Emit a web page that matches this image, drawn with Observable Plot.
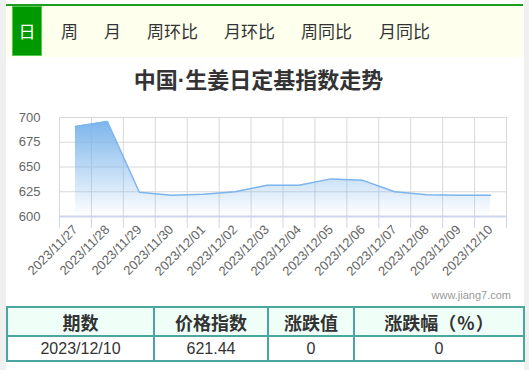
<!DOCTYPE html>
<html>
<head>
<meta charset="utf-8">
<script src="https://cdn.jsdelivr.net/npm/d3@7"></script>
<script src="https://cdn.jsdelivr.net/npm/@observablehq/plot@0.6"></script>
<style>
  html, body { margin: 0; padding: 0; }
  body { width: 529px; height: 370px; background: #f0f0f0; position: relative; overflow: hidden;
         font-family: "Noto Sans CJK SC", "Noto Sans", sans-serif; color: #333; }
  #page { position: absolute; left: 6px; top: 0; width: 518px; height: 370px; background: #fff; }
  #topline { position: absolute; left: 6px; top: 4px; width: 517px; height: 2px; background: #1e9e1e; }
  #tabbar { position: absolute; left: 6px; top: 6px; width: 517px; height: 51px; background: #ffffee; }
  .tab { position: absolute; top: 6px; height: 50px; line-height: 50px; font-size: 17px; color: #333; white-space: nowrap; }
  .tab.active { background: #009900; color: #fff; border: 1px solid #55c855; box-sizing: border-box; text-align: center; line-height: 48px; }
  #title { position: absolute; left: 0; width: 517px; top: 62px; text-align: center; font-size: 22px; font-weight: bold; color: #333; }
  #title .dot { font-family: "Liberation Sans", Arial, sans-serif; }
  #chart { position: absolute; left: 7px; top: 100px; }
  #wm { position: absolute; right: 18px; top: 289px; font-size: 11px; color: #999; font-family: "Liberation Sans", Arial, sans-serif; }
  table { position: absolute; left: 6px; top: 306px; width: 517px; border-collapse: collapse; table-layout: fixed; }
  td, th { border: 2px solid #4aa69e; text-align: center; padding: 0; color: #333; white-space: nowrap; }
  th { background: #effff8; height: 27px; font-size: 18px; font-weight: bold; }
  td { height: 23px; font-size: 16px; font-family: "Liberation Sans", Arial, sans-serif; }
  .pct { padding: 0 1px; }
</style>
</head>
<body>
<div id="page"></div>
<div id="topline"></div>
<div id="tabbar"></div>
<div id="tabs"></div>
<div id="title"></div>
<div id="chart"></div>
<div id="wm">www.jiang7.com</div>
<table id="tbl"></table>
<script>
// ---- data ----
const dates = ["2023/11/27","2023/11/28","2023/11/29","2023/11/30","2023/12/01","2023/12/02","2023/12/03",
               "2023/12/04","2023/12/05","2023/12/06","2023/12/07","2023/12/08","2023/12/09","2023/12/10"];
const values = [691, 696, 624.5, 621.5, 622.5, 625, 631.5, 631.5, 638, 636.5, 625, 622, 621.5, 621.44];
const yTicks = [600, 625, 650, 675, 700];
const tabs = ["日","周","月","周环比","月环比","周同比","月同比"];
const titleParts = ["中国", "·", "生姜日定基指数走势"];
const tableHead = ["期数","价格指数","涨跌值","涨跌幅（%）"];
const tableRow = ["2023/12/10","621.44","0","0"];

// ---- title ----
const titleEl = document.getElementById("title");
titleParts.forEach((p, i) => {
  const s = document.createElement("span");
  if (i === 1) s.className = "dot";
  s.textContent = p;
  titleEl.appendChild(s);
});

// ---- tabs ----
const tabLeft = [12, 61, 104, 147, 224, 301, 379];
const tabsDiv = document.getElementById("tabs");
tabs.forEach((t, i) => {
  const el = document.createElement("div");
  el.className = "tab" + (i === 0 ? " active" : "");
  el.textContent = t;
  el.style.left = tabLeft[i] + "px";
  if (i === 0) el.style.width = "30px";
  tabsDiv.appendChild(el);
});

// ---- table ----
const colW = [147, 114, 86, 170];
const tbl = document.getElementById("tbl");
const cg = document.createElement("colgroup");
colW.forEach(w => { const c = document.createElement("col"); c.style.width = w + "px"; cg.appendChild(c); });
tbl.appendChild(cg);
const trh = document.createElement("tr");
tableHead.forEach(h => {
  const th = document.createElement("th");
  const m = h.match(/^(.*)（(.*)）$/);
  if (m) {
    th.append(m[1] + "（");
    const b = document.createElement("span"); b.className = "pct"; b.textContent = m[2];
    th.append(b, "）");
  } else th.textContent = h;
  trh.appendChild(th);
});
tbl.appendChild(trh);
const trb = document.createElement("tr");
tableRow.forEach(v => { const td = document.createElement("td"); td.textContent = v; trb.appendChild(td); });
tbl.appendChild(trb);

// ---- chart ----
const data = dates.map((d, i) => ({idx: i + 0.5, date: d, value: values[i]}));
const bounds = d3.range(dates.length + 1);

const gradient = () => {
  const defs = d3.create("svg:defs");
  const g = defs.append("linearGradient").attr("id", "areaGrad")
    .attr("x1", 0).attr("y1", 0).attr("x2", 0).attr("y2", 1);
  g.append("stop").attr("offset", "0%").attr("stop-color", "#7cb5ec").attr("stop-opacity", 1);
  g.append("stop").attr("offset", "100%").attr("stop-color", "#7cb5ec").attr("stop-opacity", 0);
  return defs.node();
};

const chart = Plot.plot({
  width: 517,
  height: 191,
  marginLeft: 52,
  marginRight: 18,
  marginTop: 17,
  marginBottom: 75,
  style: {fontFamily: "'Liberation Sans', Arial, sans-serif", background: "transparent", overflow: "visible"},
  x: {type: "linear", domain: [0, dates.length]},
  y: {domain: [600, 700]},
  marks: [
    gradient,
    Plot.ruleY(yTicks.filter(v => v > 600), {stroke: "#d8d8d8", strokeWidth: 1}),
    Plot.ruleX(bounds, {y1: 600, y2: 700, stroke: "#d8d8d8", strokeWidth: 1}),
    Plot.ruleX(bounds, {y1: 600, y2: 600, insetBottom: -12, stroke: "#ccd6eb", strokeWidth: 1}),
    Plot.areaY(data, {x: "idx", y1: 600, y2: "value", fill: "url(#areaGrad)", curve: "linear"}),
    Plot.lineY(data, {x: "idx", y: "value", stroke: "#7cb5ec", strokeWidth: 1.5}),
    Plot.ruleY([600], {stroke: "#ccd6eb", strokeWidth: 2}),
    Plot.axisY({ticks: yTicks, tickSize: 0, tickPadding: 19, fontSize: 13, color: "#666", label: null}),
    Plot.axisX({ticks: data.map(d => d.idx), tickFormat: v => dates[Math.floor(v)], tickRotate: -45,
                tickSize: 0, tickPadding: 11, fontSize: 13, color: "#666", label: null})
  ]
});
document.getElementById("chart").appendChild(chart);
</script>
</body>
</html>
